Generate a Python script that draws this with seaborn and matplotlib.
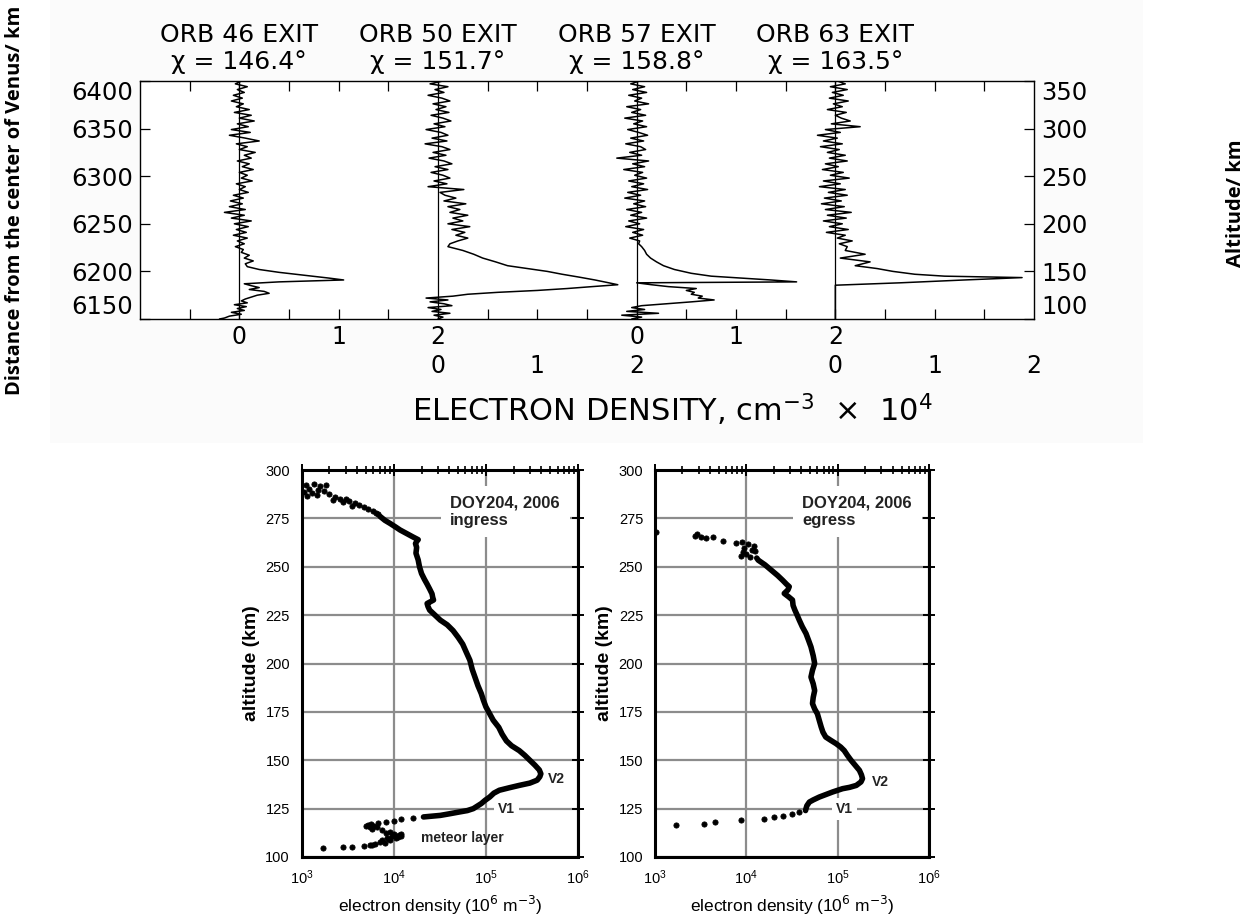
import numpy as np
import matplotlib
matplotlib.use("Agg")
import matplotlib.pyplot as plt
import matplotlib.ticker as mticker
from matplotlib.patches import Rectangle
from matplotlib.transforms import blended_transform_factory
import seaborn as sns

# ---------------------------------------------------------------------------
# Pioneer Venus exit profiles: distance from Venus centre (km) and
# electron density (10^4 cm^-3)
# ---------------------------------------------------------------------------
orbits = ["ORB 46 EXIT", "ORB 50 EXIT", "ORB 57 EXIT", "ORB 63 EXIT"]
sza = ["146.4", "151.7", "158.8", "163.5"]

noise_r = [6400, 6397, 6394, 6391, 6388, 6385, 6382, 6379, 6376, 6373, 6370, 6367,
           6364, 6361, 6358, 6355, 6352, 6349, 6346, 6343, 6340, 6337, 6334, 6331,
           6328, 6325, 6322, 6319, 6316, 6313, 6310, 6307, 6304, 6301, 6298, 6295,
           6292, 6289, 6286, 6283, 6280, 6277, 6274, 6271, 6268, 6265, 6262, 6259,
           6256, 6253, 6250, 6247, 6244, 6241, 6238, 6235, 6232, 6229, 6226]

orb46_r = noise_r + [6223, 6220, 6217, 6214, 6211, 6208, 6205, 6202, 6199, 6196, 6193,
                     6191, 6189, 6187, 6185, 6183, 6181, 6179, 6177, 6175, 6173, 6171,
                     6169, 6167, 6165, 6163, 6161, 6159, 6157, 6155, 6153, 6151, 6150]
orb46_n = [0.02, -0.04, 0.08, -0.02, 0.05, -0.06, 0.03, -0.08, 0.04, -0.03, 0.10, -0.05,
           0.12, 0.00, 0.15, -0.02, 0.09, -0.08, 0.11, -0.10, 0.06, 0.20, -0.03, 0.08,
           0.00, 0.16, 0.05, 0.12, -0.02, 0.10, 0.03, 0.14, 0.00, 0.08, 0.02, 0.13,
           -0.03, 0.06, 0.00, 0.09, -0.06, 0.04, -0.09, 0.03, -0.10, 0.06, -0.15, 0.05,
           -0.08, 0.12, -0.05, 0.09, -0.03, 0.07, -0.06, 0.08, -0.02, 0.05, -0.04,
           0.04, 0.02, 0.10, 0.05, 0.14, 0.06, 0.08, 0.20, 0.40, 0.65, 0.90,
           1.05, 0.40, 0.05, 0.12, 0.20, 0.10, 0.25, 0.30, 0.18, 0.12, 0.06,
           0.02, 0.08, -0.05, 0.07, -0.02, 0.05, -0.08, 0.02, -0.10, -0.15, -0.20]

orb50_r = noise_r + [6222, 6218, 6214, 6210, 6206, 6203, 6200, 6197, 6194, 6191, 6188,
                     6186, 6184, 6182, 6180, 6178, 6176, 6174, 6172, 6170, 6168, 6166,
                     6164, 6162, 6160, 6158, 6156, 6154, 6152, 6150]
orb50_n = [0.05, -0.08, 0.10, -0.03, 0.06, -0.10, 0.04, 0.12, -0.05, 0.08, -0.02, 0.11,
           -0.07, 0.05, 0.13, -0.04, 0.07, -0.12, 0.03, 0.10, -0.06, 0.09, -0.13, 0.04,
           0.12, -0.05, 0.08, -0.09, 0.06, 0.14, -0.03, 0.10, -0.07, 0.05, 0.12, -0.04,
           0.09, -0.10, 0.26, 0.02, 0.07, 0.18, 0.06, 0.28, 0.10, 0.22, 0.12, 0.30,
           0.15, 0.25, 0.10, 0.32, 0.14, 0.27, 0.18, 0.30, 0.20, 0.12, 0.10,
           0.25, 0.36, 0.45, 0.58, 0.70, 0.90, 1.10, 1.25, 1.42, 1.58, 1.72,
           1.81, 1.55, 1.30, 1.00, 0.60, 0.30, 0.15, -0.12, 0.10, -0.08, 0.06,
           0.14, -0.10, 0.03, -0.06, 0.12, -0.04, 0.05, 0.00]

orb57_r = noise_r + [6222, 6218, 6214, 6210, 6206, 6202, 6198, 6195, 6193, 6191, 6189,
                     6188, 6186, 6184, 6182, 6180, 6178, 6176, 6174, 6172, 6170, 6168,
                     6166, 6164, 6162, 6160, 6158, 6156, 6154, 6152, 6150]
orb57_n = [0.03, -0.06, 0.08, -0.04, 0.10, -0.08, 0.05, -0.02, 0.12, -0.10, 0.04, -0.05,
           0.09, -0.12, 0.06, -0.03, 0.10, -0.09, 0.02, 0.11, -0.06, 0.07, -0.11, 0.04,
           0.09, -0.07, 0.05, -0.20, 0.12, -0.04, 0.08, -0.13, 0.06, -0.02, 0.10, -0.08,
           0.07, -0.05, 0.11, -0.09, 0.04, -0.12, 0.08, -0.03, 0.09, -0.10, 0.05, -0.06,
           0.10, -0.08, 0.03, -0.11, 0.07, -0.04, 0.06, -0.07, 0.03, 0.02, 0.05,
           0.08, 0.10, 0.14, 0.20, 0.27, 0.38, 0.55, 0.75, 1.05, 1.35, 1.61,
           0.00, 0.15, 0.32, 0.60, 0.50, 0.58, 0.55, 0.66, 0.62, 0.78, 0.55,
           0.30, 0.05, -0.05, 0.08, -0.10, 0.22, -0.15, 0.05, -0.05]

orb63_r = noise_r + [6222, 6218, 6214, 6210, 6206, 6203, 6200, 6197, 6195, 6193.5, 6191,
                     6188, 6185.5, 6150]
orb63_n = [0.02, 0.10, -0.05, 0.12, -0.03, 0.08, -0.06, 0.13, -0.02, 0.07, -0.08, 0.11,
           0.00, 0.06, 0.15, -0.04, 0.25, -0.10, 0.05, -0.18, 0.02, -0.12, 0.07, -0.15,
           0.04, -0.08, 0.10, -0.06, 0.12, -0.10, 0.03, -0.13, 0.08, -0.05, 0.14, -0.12,
           0.05, -0.16, 0.10, -0.07, 0.12, -0.11, 0.06, -0.14, 0.09, -0.10, 0.16, -0.08,
           0.11, -0.12, 0.07, -0.06, 0.13, -0.09, 0.10, 0.02, 0.17, 0.04, 0.12,
           0.10, 0.30, 0.05, 0.35, 0.20, 0.42, 0.58, 0.80, 1.10, 1.88, 1.30,
           0.65, 0.00, 0.00]

profiles_r = [orb46_r, orb50_r, orb57_r, orb63_r]
profiles_n = [orb46_n, orb50_n, orb57_n, orb63_n]
baselines = [0, 2, 4, 6]

dist_ticks = [6150, 6200, 6250, 6300, 6350, 6400]
alt_ticks = [100, 150, 200, 250, 300, 350]
x_major = [-0.5, 0, 0.5, 1, 1.5, 2, 2.5, 3, 3.5, 4, 4.5, 5, 5.5, 6, 6.5, 7, 7.5]
row1_pos, row1_lab = [0, 1, 2, 4, 5, 6], ["0", "1", "2", "0", "1", "2"]
row2_pos, row2_lab = [2, 3, 4, 6, 7, 8], ["0", "1", "2", "0", "1", "2"]

# ---------------------------------------------------------------------------
# Venus Express radio occultation, DOY 204 2006: altitude (km), density (10^6 m^-3)
# ---------------------------------------------------------------------------
ing_alt = [276, 274, 272.4, 270.5, 269, 267, 265.5, 264, 263.5, 262, 260, 257, 253.5,
           250, 246.5, 243.5, 241, 238.5, 236, 234, 232.8, 231, 229.5, 227.6, 225,
           222.4, 220, 217, 213.5, 210, 206, 201.7, 197, 193, 188.5, 184.5, 181,
           177.6, 174, 170.7, 167, 163.5, 160, 157.5, 155, 152.5, 150, 147.5, 145,
           143, 141.5, 139.7, 138.2, 137, 135.8, 134.5, 133, 131, 129.3, 127.6,
           126.2, 125, 124, 123.3, 122.4, 121.5, 120.7]
ing_n = [7.1e3, 8.0e3, 9.1e3, 1.05e4, 1.17e4, 1.4e4, 1.6e4, 1.84e4, 1.8e4, 1.72e4,
         1.77e4, 1.74e4, 1.84e4, 1.9e4, 2.0e4, 2.15e4, 2.3e4, 2.45e4, 2.6e4, 2.65e4,
         2.7e4, 2.3e4, 2.35e4, 2.45e4, 2.8e4, 3.2e4, 3.8e4, 4.4e4, 5.0e4, 5.6e4,
         6.1e4, 6.7e4, 7.1e4, 7.6e4, 8.2e4, 8.9e4, 9.4e4, 1.0e5, 1.1e5, 1.2e5,
         1.38e5, 1.5e5, 1.67e5, 1.9e5, 2.3e5, 2.65e5, 3.0e5, 3.4e5, 3.8e5, 3.95e5,
         3.85e5, 3.6e5, 3.0e5, 2.3e5, 1.8e5, 1.4e5, 1.22e5, 1.1e5, 9.8e4, 8.9e4,
         8.0e4, 7.3e4, 6.3e4, 5.2e4, 4.1e4, 3.2e4, 2.1e4]
ing_sp_alt = [292.5, 293, 291.5, 292, 290, 289.5, 288.5, 288, 289, 286.5, 287, 287.5,
              286, 285, 284.5, 285, 284, 283.5, 283, 282, 281.5, 281, 280, 279, 278,
              277.5, 120.3, 119.6, 118.8, 118.3, 117.6, 117, 116.5, 116, 115.5, 115.3,
              114.5, 113.8, 113, 112.5, 112, 111.5, 111, 110.5, 110, 109.5, 109, 108.6,
              107.8, 107, 106.5, 106, 105.5, 105, 105, 104.7, 116.2, 115.8, 111.8,
              110.8, 109.8, 106.2]
ing_sp_n = [1.1e3, 1.35e3, 1.6e3, 1.85e3, 1.2e3, 1.5e3, 1.05e3, 1.3e3, 1.75e3, 1.15e3,
            1.45e3, 2.0e3, 2.3e3, 2.6e3, 2.2e3, 3.0e3, 3.3e3, 2.8e3, 3.8e3, 4.2e3,
            3.5e3, 4.8e3, 5.3e3, 5.9e3, 6.4e3, 6.8e3, 1.6e4, 1.2e4, 1.0e4, 8.3e3,
            6.8e3, 5.6e3, 5.3e3, 6.0e3, 5.5e3, 6.5e3, 5.8e3, 7.5e3, 9.0e3, 8.2e3,
            1.0e4, 1.15e4, 9.5e3, 1.1e4, 1.05e4, 8.8e3, 7.5e3, 9.0e3, 7.0e3, 8.0e3,
            6.2e3, 5.5e3, 4.8e3, 3.5e3, 2.8e3, 1.7e3, 5.0e3, 5.9e3, 1.2e4, 1.2e4,
            8.5e3, 5.8e3]

eg_alt = [254.5, 253.4, 251, 248.3, 245.5, 243, 241, 239.7, 238, 236.2, 234.5, 232.8,
          230, 227.6, 225, 222.4, 219, 215.5, 212, 208.6, 204, 200, 196.5, 193, 189.5,
          186, 182.5, 179.3, 176.5, 174, 170.5, 167.2, 164.5, 162, 160.3, 158.6, 156.8,
          155, 152.5, 150, 147.5, 144.8, 142.5, 140.5, 138.8, 137, 136, 135.3, 133.6,
          131, 129.5, 128.4, 126.5, 125, 124]
eg_n = [1.3e4, 1.35e4, 1.6e4, 1.87e4, 2.2e4, 2.5e4, 2.75e4, 2.95e4, 2.85e4, 2.6e4,
        2.9e4, 3.2e4, 3.25e4, 3.4e4, 3.6e4, 3.8e4, 4.1e4, 4.5e4, 4.8e4, 5.1e4, 5.4e4,
        5.6e4, 5.3e4, 5.1e4, 5.4e4, 5.6e4, 5.4e4, 5.3e4, 5.6e4, 6.0e4, 6.3e4, 6.6e4,
        6.9e4, 7.4e4, 8.4e4, 9.6e4, 1.08e5, 1.18e5, 1.28e5, 1.4e5, 1.55e5, 1.73e5,
        1.82e5, 1.87e5, 1.8e5, 1.6e5, 1.35e5, 1.13e5, 8.8e4, 6.3e4, 5.4e4, 4.9e4,
        4.6e4, 4.5e4, 4.45e4]
eg_sp_alt = [266, 267, 265.5, 264.7, 265.2, 263.3, 262.5, 263, 261.5, 260.5, 259.5,
             258.5, 258, 257.5, 256.5, 255.5, 255, 123.3, 122.4, 121, 120.7, 119.8,
             119, 118, 117.2, 116.7, 268]
eg_sp_n = [2.75e3, 2.9e3, 3.2e3, 3.6e3, 4.3e3, 5.6e3, 7.8e3, 9.0e3, 1.05e4, 1.2e4,
           9.5e3, 1.15e4, 1.25e4, 9.2e3, 1.0e4, 8.8e3, 1.1e4, 3.8e4, 3.2e4, 2.5e4,
           2.0e4, 1.55e4, 8.8e3, 4.5e3, 3.4e3, 1.7e3, 1.02e3]

alt_major = [100, 125, 150, 175, 200, 225, 250, 275, 300]

# ---------------------------------------------------------------------------
sns.set_theme(style="white")
plt.rcParams["font.family"] = ["DejaVu Sans"]
plt.rcParams["text.color"] = "black"
plt.rcParams["axes.labelcolor"] = "black"
plt.rcParams["xtick.color"] = "black"
plt.rcParams["ytick.color"] = "black"

W, H = 1250, 919
fig = plt.figure(figsize=(W / 100, H / 100), dpi=100)
fig.patch.set_facecolor("white")
fig.patches.append(Rectangle((50 / W, 1 - 443 / H), 1093 / W, 443 / H,
                             transform=fig.transFigure, facecolor="#fbfbfb",
                             edgecolor="none", zorder=-5))

# ---- upper panel -----------------------------------------------------------
ax = fig.add_axes([140 / W, 1 - 319 / H, 894 / W, 238 / H])
ax.set_facecolor("white")
for base, r, n in zip(baselines, profiles_r, profiles_n):
    ax.axvline(base, color="black", lw=0.9, zorder=1)
    sns.lineplot(x=np.asarray(n) + base, y=r, sort=False, estimator=None,
                 color="black", linewidth=1.1, ax=ax, zorder=2)
ax.set_xlim(-1, 8)
ax.set_ylim(6150, 6400)
ax.set_xticks(x_major)
ax.set_xticklabels([])
ax.set_yticks(dist_ticks)
ax.set_yticklabels([str(v) for v in dist_ticks], fontsize=17.5)
ax.tick_params(axis="both", direction="in", length=7, width=0.9, color="black",
               top=True, bottom=True, left=True, right=False, pad=5)
ylabs = ax.get_yticklabels()
ylabs[0].set_verticalalignment("bottom")
ylabs[-1].set_verticalalignment("top")
for sp in ax.spines.values():
    sp.set_color("black")
    sp.set_linewidth(1.0)
ax.set_xlabel("")
ax.set_ylabel("")

ax2 = ax.twinx()
ax2.set_ylim(100, 350)
ax2.set_yticks(alt_ticks)
ax2.set_yticklabels([str(v) for v in alt_ticks], fontsize=17.5)
ax2.tick_params(axis="y", direction="in", length=7, width=0.9, color="black", pad=5)
rlabs = ax2.get_yticklabels()
rlabs[0].set_verticalalignment("bottom")
rlabs[-1].set_verticalalignment("top")
for sp in ax2.spines.values():
    sp.set_visible(False)

tr = blended_transform_factory(ax.transData, fig.transFigure)
for p, t in zip(row1_pos, row1_lab):
    ax.text(p, 1 - 337 / H, t, transform=tr, ha="center", va="center", fontsize=17)
for p, t in zip(row2_pos, row2_lab):
    ax.text(p, 1 - 366 / H, t, transform=tr, ha="center", va="center", fontsize=17)
for base, name, chi in zip(baselines, orbits, sza):
    ax.text(base, 1 - 35 / H, name, transform=tr, ha="center", va="center", fontsize=18)
    ax.text(base, 1 - 62 / H, "\u03c7 = " + chi + "\u00b0", transform=tr,
            ha="center", va="center", fontsize=18)
fig.text(672 / W, 1 - 410 / H, "ELECTRON DENSITY, cm$^{-3}$  \u00d7  10$^{4}$",
         ha="center", va="center", fontsize=22)

fig.text(15 / W, 1 - 200 / H, "Distance from the center of Venus/ km", rotation=90,
         ha="center", va="center", fontsize=14.5, fontweight="bold", family="Open Sans")
fig.text(1236 / W, 1 - 203 / H, "Altitude/ km", rotation=90,
         ha="center", va="center", fontsize=14.5, fontweight="bold", family="Open Sans")

# ---- lower panels ----------------------------------------------------------
def occultation_panel(rect, line_alt, line_n, sp_alt, sp_n, mode, v2, v1, meteor):
    a = fig.add_axes(rect)
    a.set_facecolor("white")
    a.set_xscale("log")
    a.set_axisbelow(True)
    a.grid(True, which="major", color="#8c8c8c", lw=1.6)
    a.grid(False, which="minor")
    sns.lineplot(x=line_n, y=line_alt, sort=False, estimator=None, color="black",
                 linewidth=4.0, ax=a, zorder=3)
    sns.scatterplot(x=sp_n, y=sp_alt, color="black", s=14, marker="o",
                    edgecolor="black", linewidth=0.6, ax=a, zorder=3)
    a.set_xlim(1e3, 1e6)
    a.set_ylim(100, 300)
    a.set_yticks(alt_major)
    a.yaxis.set_minor_locator(mticker.MultipleLocator(12.5))
    a.xaxis.set_major_locator(mticker.LogLocator(base=10, numticks=10))
    a.xaxis.set_minor_locator(mticker.LogLocator(base=10, subs=(2, 3, 4, 5, 6, 7, 8, 9),
                                                 numticks=10))
    a.xaxis.set_minor_formatter(mticker.NullFormatter())
    a.tick_params(axis="both", which="major", direction="inout", length=9, width=1.4,
                  color="black", labelsize=10.5, top=True, right=True, pad=4)
    a.tick_params(axis="both", which="minor", direction="inout", length=6, width=1.2,
                  color="black", top=True, right=False)
    for lab in a.get_xticklabels() + a.get_yticklabels():
        lab.set_family("Liberation Sans")
    for sp in a.spines.values():
        sp.set_color("black")
        sp.set_linewidth(2.2)
    a.set_xlabel("electron density (10$^{6}$ m$^{-3}$)", fontsize=12.5,
                  family="Liberation Sans", labelpad=5)
    a.set_ylabel("altitude (km)", fontsize=14, family="Liberation Sans",
                  fontweight="bold", labelpad=4)
    box = dict(facecolor="white", edgecolor="none", pad=3)
    a.text(4.1e4, 278.5, "DOY204, 2006\n" + mode, fontsize=12, family="Liberation Sans",
           fontweight="bold", color="#222222", ha="left", va="center", linespacing=1.2,
           bbox=dict(facecolor="white", edgecolor="none", pad=7), zorder=4)
    a.text(v2[0], v2[1], "V2", fontsize=10, family="Liberation Sans", fontweight="bold",
           color="#222222", ha="center", va="center", zorder=4)
    a.text(v1[0], v1[1], "V1", fontsize=10, family="Liberation Sans", fontweight="bold",
           color="#222222", ha="center", va="center", bbox=box, zorder=4)
    if meteor is not None:
        a.text(meteor[0], meteor[1], "meteor layer", fontsize=10, family="Liberation Sans",
               fontweight="bold", color="#222222", ha="center", va="center", zorder=4)
    return a


occultation_panel([301.7 / W, 1 - 857 / H, 276.3 / W, 387 / H], ing_alt, ing_n,
                  ing_sp_alt, ing_sp_n, "ingress", (5.75e5, 140.5), (1.66e5, 124.8),
                  (5.6e4, 110))
occultation_panel([655 / W, 1 - 857 / H, 274 / W, 387 / H], eg_alt, eg_n,
                  eg_sp_alt, eg_sp_n, "egress", (2.95e5, 139), (1.18e5, 124.8), None)

fig.savefig("out.png", dpi=100)
